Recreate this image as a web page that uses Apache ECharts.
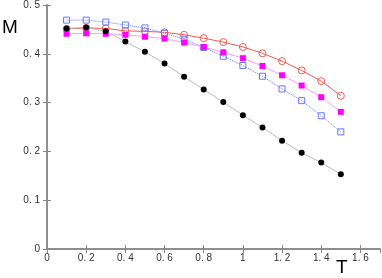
<!DOCTYPE html>
<html><head><meta charset="utf-8">
<script src="https://cdn.jsdelivr.net/npm/echarts@6/dist/echarts.min.js"></script>
<style>html,body{margin:0;padding:0;background:#fff}#c{width:382px;height:278px}</style>
</head><body><div id="c"></div>
<script>
var T = [0.1,0.2,0.3,0.4,0.5,0.6,0.7,0.8,0.9,1.0,1.1,1.2,1.3,1.4,1.5];
var black = [0.452,0.454,0.446,0.425,0.404,0.380,0.353,0.327,0.301,0.274,0.249,0.222,0.197,0.177,0.153];
var red = [0.451,0.453,0.452,0.447,0.446,0.444,0.439,0.432,0.424,0.414,0.401,0.385,0.366,0.344,0.314];
var magenta = [0.441,0.442,0.441,0.439,0.435,0.431,0.423,0.414,0.403,0.391,0.375,0.356,0.335,0.311,0.281];
var blue = [0.469,0.469,0.465,0.459,0.453,0.442,0.430,0.413,0.395,0.376,0.354,0.328,0.304,0.273,0.240];
function pts(v){return T.map(function(t,i){return [t,v[i]];});}
var chart = echarts.init(document.getElementById('c'));
var axLine = {lineStyle:{color:'#888',width:1.5}};
var font = 'Liberation Sans';
function fmt(v){return String(Math.round(v*10)/10).replace('.', '. ');}
chart.setOption({
  animation:false,
  grid:{left:47,right:2,top:5,bottom:29},
  xAxis:[{type:'value',min:0,max:1.7,interval:0.2,axisLine:axLine,
    axisTick:{inside:true,length:4,lineStyle:{color:'#888'}},
    axisLabel:{showMaxLabel:false,color:'#333',fontSize:10,fontFamily:font,margin:4,formatter:fmt},
    splitLine:{show:false}},
   {type:'value',position:'top',min:0,max:1.7,interval:0.2,axisLine:axLine,
    axisTick:{inside:true,length:4,lineStyle:{color:'#888'}},axisLabel:{show:false},splitLine:{show:false}}],
  yAxis:[{type:'value',min:0,max:0.5,interval:0.1,axisLine:axLine,
    axisTick:{inside:true,length:4,lineStyle:{color:'#888'}},
    axisLabel:{color:'#333',fontSize:10,fontFamily:font,margin:7,formatter:fmt},
    splitLine:{show:false}},
   {type:'value',position:'right',min:0,max:0.5,interval:0.1,axisLine:axLine,
    axisTick:{inside:true,length:4,lineStyle:{color:'#888'}},axisLabel:{show:false},splitLine:{show:false}}],
  graphic:[
    {type:'text',left:2,top:18,style:{text:'M',fontSize:19,fontFamily:font,fill:'#000'}},
    {type:'text',left:336,top:258,style:{text:'T',fontSize:19,fontFamily:font,fill:'#000'}}
  ],
  series:[
    {type:'line',data:pts(black),symbol:'circle',symbolSize:6,itemStyle:{color:'#000'},
     lineStyle:{color:'#bbb',width:1},z:5},
    {type:'line',data:pts(blue),symbol:'rect',symbolSize:6,
     itemStyle:{color:'rgba(255,255,255,0)',borderColor:'#6677ff',borderWidth:1},
     lineStyle:{color:'#6677ff',width:1,type:'dotted'},z:3},
    {type:'line',data:pts(magenta),symbol:'rect',symbolSize:6,itemStyle:{color:'#ff00ff'},
     lineStyle:{color:'#ff99ff',width:1},z:4},
    {type:'line',data:pts(red),symbol:'circle',symbolSize:7,
     itemStyle:{color:'rgba(255,255,255,0)',borderColor:'#f05a50',borderWidth:1},
     lineStyle:{color:'#f05a50',width:1},z:2}
  ]
});
</script></body></html>
